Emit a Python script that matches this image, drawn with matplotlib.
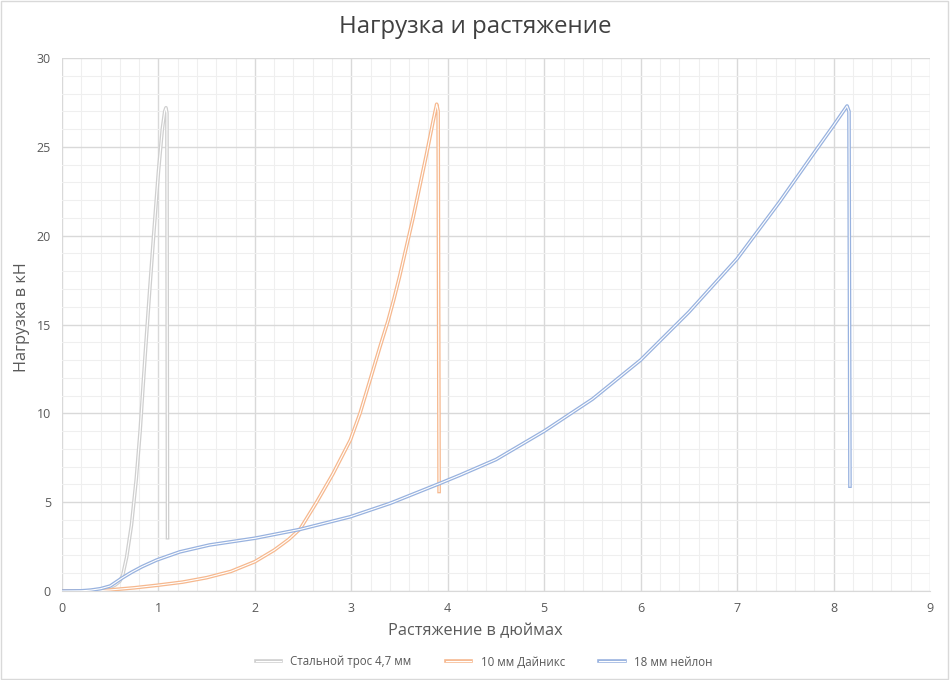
import matplotlib
matplotlib.use("Agg")
import matplotlib.pyplot as plt
import matplotlib.patheffects as pe
from matplotlib.ticker import MultipleLocator
from matplotlib.patches import Rectangle

plt.rcParams['font.family'] = ['Open Sans', 'DejaVu Sans']

# Data (inches, kN)
steel_x = [0.0, 0.2, 0.3, 0.4, 0.5, 0.55, 0.6, 0.63, 0.67, 0.72, 0.77, 0.81, 0.84, 0.87, 0.91, 0.95, 1.0, 1.04, 1.065, 1.078, 1.088, 1.094]
steel_y = [0.0, 0.0, 0.02, 0.08, 0.2, 0.33, 0.55, 0.9, 1.9, 3.7, 6.3, 9.0, 11.5, 13.9, 17.0, 20.0, 23.6, 26.0, 27.0, 27.2, 26.9, 3.0]

dyn_x = [0.0, 0.3, 0.5, 0.75, 1.0, 1.25, 1.5, 1.75, 2.0, 2.2, 2.35, 2.47, 2.64, 2.81, 2.99, 3.09, 3.19, 3.30, 3.38, 3.44, 3.50, 3.64, 3.78, 3.85, 3.885, 3.90, 3.91]
dyn_y = [0.0, 0.0, 0.06, 0.18, 0.33, 0.5, 0.75, 1.1, 1.65, 2.3, 2.9, 3.5, 5.0, 6.6, 8.5, 10.0, 11.8, 13.8, 15.2, 16.4, 17.7, 21.0, 24.6, 26.5, 27.4, 27.0, 5.6]

nyl_x = [0.0, 0.2, 0.3, 0.4, 0.5, 0.62, 0.72, 0.83, 0.98, 1.22, 1.53, 2.0, 2.47, 2.99, 3.40, 3.92, 4.13, 4.5, 5.0, 5.5, 6.0, 6.5, 7.0, 7.44, 7.79, 8.0, 8.14, 8.16, 8.17]
nyl_y = [0.0, 0.01, 0.05, 0.13, 0.28, 0.72, 1.05, 1.37, 1.74, 2.2, 2.59, 2.97, 3.47, 4.18, 4.93, 6.06, 6.53, 7.4, 9.0, 10.8, 13.0, 15.7, 18.7, 21.9, 24.6, 26.2, 27.3, 27.0, 5.9]

labels = ["Стальной трос 4,7 мм", "10 мм Дайникс", "18 мм нейлон"]
colors = ["#cfcfcf", "#f6b88e", "#98b2df"]

fig = plt.figure(figsize=(9.5, 6.8), dpi=100)
ax = fig.add_axes([62/950, 1-591/680, (930-62)/950, (591-58)/680])

for xs, ys, lab, c in zip([steel_x, dyn_x, nyl_x], [steel_y, dyn_y, nyl_y], labels, colors):
    ax.plot(xs, ys, color="white", lw=0.8, label=lab, solid_joinstyle='round',
            path_effects=[pe.Stroke(linewidth=2.6, foreground=c), pe.Normal()], zorder=3)

ax.set_xlim(0, 9)
ax.set_ylim(0, 30)
ax.xaxis.set_major_locator(MultipleLocator(1))
ax.xaxis.set_minor_locator(MultipleLocator(0.2))
ax.yaxis.set_major_locator(MultipleLocator(5))
ax.yaxis.set_minor_locator(MultipleLocator(1))
ax.grid(which='major', color='#d9d9d9', lw=1.0)
ax.grid(which='minor', color='#efefef', lw=0.8)
ax.set_axisbelow(True)
for s in ['top', 'right', 'left']:
    ax.spines[s].set_visible(False)
ax.spines['bottom'].set_color('#d9d9d9')
ax.tick_params(which='both', length=0, colors='#595959', labelsize=9, pad=8)

fig.text(475/950, 1-631/680, "Растяжение в дюймах", ha='center', va='center', fontsize=11.7, color='#595959')
fig.text(22/950, 1-317/680, "Нагрузка в кН", ha='center', va='center', rotation=90, fontsize=11.7, color='#595959')
fig.text(0.5, 1-27/680, "Нагрузка и растяжение", ha='center', va='center', fontsize=17.3, color='#404040')

leg = fig.legend(loc='center', bbox_to_anchor=(484/950, 1-662/680), ncol=3, frameon=False,
                 fontsize=8.3, labelcolor='#595959', handlelength=2.2, columnspacing=3.0)

fig.patches.append(Rectangle((0.001, 0.001), 0.997, 0.997, transform=fig.transFigure,
                             fill=False, edgecolor='#d9d9d9', lw=1))

fig.savefig("out.png", dpi=100, facecolor='white')
